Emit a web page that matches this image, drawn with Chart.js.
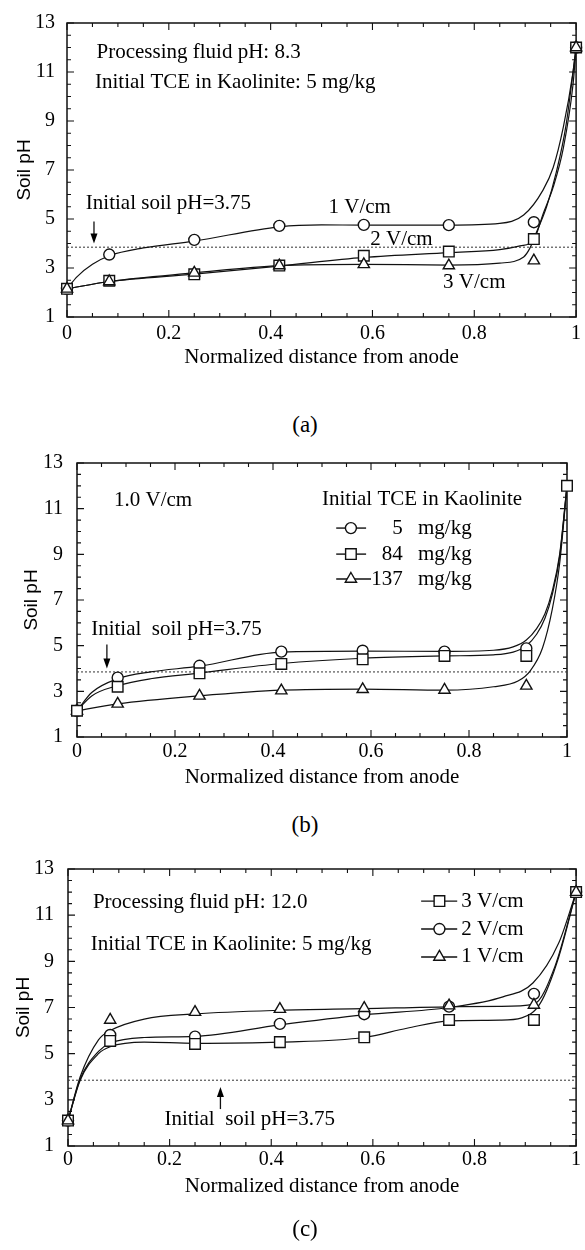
<!DOCTYPE html>
<html>
<head>
<meta charset="utf-8">
<script src="https://cdn.jsdelivr.net/npm/chart.js@4.4.1/dist/chart.umd.min.js"></script>
<style>
  body { margin: 0; background: #fff; width: 585px; height: 1250px; position: relative; overflow: hidden; }
  canvas { position: absolute; left: 0; }
  .tag { position: absolute; width: 80px; margin-left: -40px; text-align: center;
         font: 23px "Liberation Serif", serif; color: #000; line-height: 26px; }
</style>
</head>
<body>
<canvas id="pa" width="585" height="380" style="top:0px"></canvas>
<div class="tag" style="left:305px; top:412px">(a)</div>
<canvas id="pb" width="585" height="400" style="top:400px"></canvas>
<div class="tag" style="left:305px; top:812px">(b)</div>
<canvas id="pc" width="585" height="420" style="top:800px"></canvas>
<div class="tag" style="left:305px; top:1216px">(c)</div>

<script>
// sampling positions (normalized distance from anode)
const X_PTS = [0, 0.083, 0.25, 0.417, 0.583, 0.75, 0.917, 1]
const X_TICKS = [0, 0.2, 0.4, 0.6, 0.8, 1]
const Y_TICKS = [1, 3, 5, 7, 9, 11, 13]
const INIT_X = [0, 1]
const INIT_PH = [3.85, 3.85]

// (a) processing fluid pH 8.3, 5 mg/kg
const A_1V = [2.15, 3.55, 4.15, 4.72, 4.76, 4.75, 4.87, 12]
const A_2V = [2.15, 2.48, 2.74, 3.1, 3.5, 3.67, 4.18, 12]
const A_3V = [2.15, 2.45, 2.8, 3.1, 3.15, 3.1, 3.3, 12]
const A_1V_FIT_X = [0, 0.02, 0.05, 0.083, 0.15, 0.25, 0.417, 0.5, 0.583, 0.75, 0.85, 0.897, 0.935, 0.955, 0.975, 0.994, 1]
const A_1V_FIT = [2.15, 2.65, 3.15, 3.5, 3.82, 4.1, 4.68, 4.76, 4.75, 4.75, 4.82, 5.16, 6.18, 7.1, 8.76, 11.0, 12]
const A_2V_FIT_X = [0, 0.083, 0.25, 0.417, 0.583, 0.75, 0.85, 0.89, 0.917, 0.935, 0.955, 0.975, 0.994, 1]
const A_2V_FIT = [2.15, 2.45, 2.75, 3.08, 3.43, 3.63, 3.75, 3.9, 4.15, 5.2, 6.3, 7.9, 10.5, 12]
const A_3V_FIT_X = [0, 0.083, 0.25, 0.417, 0.583, 0.75, 0.85, 0.897, 0.909, 0.921, 0.942, 0.961, 0.98, 1]
const A_3V_FIT = [2.15, 2.45, 2.8, 3.1, 3.15, 3.12, 3.2, 3.45, 3.8, 4.4, 5.5, 6.9, 8.8, 12]

// (b) 1.0 V/cm, three initial TCE levels (only the square shows at x = 1)
const B_5 = [2.15, 3.6, 4.12, 4.74, 4.78, 4.74, 4.88, null]
const B_84 = [2.15, 3.2, 3.79, 4.2, 4.4, 4.55, 4.55, 12]
const B_137 = [2.15, 2.45, 2.8, 3.03, 3.09, 3.06, 3.24, null]
const B_5_FIT_X = [0, 0.03, 0.083, 0.15, 0.25, 0.417, 0.583, 0.75, 0.85, 0.89, 0.917, 0.938, 0.955, 0.97, 0.985, 1]
const B_5_FIT = [2.15, 2.95, 3.55, 3.85, 4.1, 4.72, 4.76, 4.75, 4.8, 4.95, 5.25, 5.75, 6.4, 7.4, 9.0, 12]
const B_84_FIT_X = [0, 0.03, 0.083, 0.15, 0.25, 0.417, 0.583, 0.75, 0.85, 0.89, 0.917, 0.938, 0.955, 0.97, 0.985, 1]
const B_84_FIT = [2.15, 2.8, 3.25, 3.55, 3.8, 4.22, 4.45, 4.55, 4.6, 4.72, 5.0, 5.5, 6.2, 7.25, 8.9, 12]
const B_137_FIT_X = [0, 0.083, 0.25, 0.417, 0.583, 0.75, 0.85, 0.9, 0.925, 0.95, 0.97, 0.985, 1]
const B_137_FIT = [2.15, 2.45, 2.8, 3.05, 3.1, 3.05, 3.2, 3.45, 3.9, 4.9, 6.6, 8.6, 12]

// (c) processing fluid pH 12.0, 5 mg/kg
const C_3V = [2.1, 5.55, 5.42, 5.5, 5.71, 6.46, 6.46, 12]
const C_2V = [2.1, 5.81, 5.74, 6.29, 6.71, 7.04, 7.59, 12]
const C_1V = [2.1, 6.46, 6.8, 6.93, 6.97, 7.08, 7.11, 12]
const C_3V_FIT_X = [0, 0.024, 0.06, 0.083, 0.15, 0.25, 0.417, 0.583, 0.667, 0.75, 0.85, 0.893, 0.93, 0.966, 1]
const C_3V_FIT = [2.1, 3.85, 5.0, 5.3, 5.5, 5.45, 5.5, 5.7, 6.1, 6.42, 6.45, 6.55, 7.2, 9.2, 12]
const C_2V_FIT_X = [0, 0.024, 0.06, 0.083, 0.15, 0.25, 0.417, 0.583, 0.75, 0.856, 0.915, 0.966, 1]
const C_2V_FIT = [2.1, 3.9, 5.1, 5.45, 5.7, 5.75, 6.25, 6.68, 7.0, 7.46, 8.06, 9.8, 12]
const C_1V_FIT_X = [0, 0.024, 0.06, 0.083, 0.15, 0.25, 0.417, 0.583, 0.75, 0.85, 0.917, 0.958, 1]
const C_1V_FIT = [2.1, 4.0, 5.6, 6.0, 6.5, 6.72, 6.88, 6.95, 7.03, 7.05, 7.15, 8.76, 12]

const SERIF = '"Liberation Serif", "Times New Roman", serif'
const SANS = '"Liberation Sans", Arial, sans-serif'
const INK = '#111'

// marker look, same numbers Chart.js uses for its point styles
const MARK = {
  circle:   { pointStyle: 'circle',   pointRadius: 5.5 },
  rect:     { pointStyle: 'rect',     pointRadius: 7.5 },
  triangle: { pointStyle: 'triangle', pointRadius: 6.5 },
}

const pts = (xs, ys) => xs.map((x, i) => ({ x, y: ys[i] }))

function drawMark(ctx, style, x, y) {
  const r = MARK[style].pointRadius
  ctx.beginPath()
  if (style === 'circle') {
    ctx.arc(x, y, r, 0, Math.PI * 2)
  } else if (style === 'rect') {
    const s = r * Math.SQRT1_2
    ctx.rect(x - s, y - s, 2 * s, 2 * s)
  } else {
    for (let k = 0; k < 3; k++) {
      const a = k * 2 * Math.PI / 3
      const px = x + Math.sin(a) * r, py = y - Math.cos(a) * r
      k ? ctx.lineTo(px, py) : ctx.moveTo(px, py)
    }
    ctx.closePath()
  }
  ctx.fillStyle = '#fff'
  ctx.fill()
  ctx.stroke()
}

// box + inward ticks on all four sides
const frameTicks = {
  id: 'frameTicks',
  beforeDatasetsDraw(chart) {
    const { ctx, chartArea: a, scales: { x, y } } = chart
    ctx.save()
    ctx.strokeStyle = INK
    ctx.lineWidth = 1.5
    ctx.strokeRect(a.left, a.top, a.right - a.left, a.bottom - a.top)
    ctx.lineWidth = 1.1
    ctx.beginPath()
    for (let i = 0; i <= 20; i++) {
      const px = x.getPixelForValue(i / 20)
      const len = i % 4 === 0 ? 7 : 4
      ctx.moveTo(px, a.bottom); ctx.lineTo(px, a.bottom - len)
      ctx.moveTo(px, a.top);    ctx.lineTo(px, a.top + len)
    }
    for (let i = 0; i <= 24; i++) {
      const py = y.getPixelForValue(1 + i / 2)
      const len = i % 4 === 0 ? 7 : 4
      ctx.moveTo(a.left, py);  ctx.lineTo(a.left + len, py)
      ctx.moveTo(a.right, py); ctx.lineTo(a.right - len, py)
    }
    ctx.stroke()
    ctx.restore()
  },
}

// in-plot labels, arrows and the hand-drawn style legend
const notes = {
  id: 'notes',
  afterDatasetsDraw(chart, args, o) {
    const { ctx, scales: { x, y } } = chart
    ctx.save()
    ctx.fillStyle = '#000'
    ctx.strokeStyle = INK
    ctx.textBaseline = 'middle'
    ctx.font = '21px ' + SERIF
    for (const t of o.texts || []) {
      ctx.textAlign = t.align || 'left'
      ctx.fillText(t.text, x.getPixelForValue(t.x), y.getPixelForValue(t.y))
    }
    ctx.lineWidth = 1.3
    for (const ar of o.arrows || []) {
      const px = x.getPixelForValue(ar.x)
      const p0 = y.getPixelForValue(ar.from), p1 = y.getPixelForValue(ar.to)
      const dir = p1 > p0 ? 1 : -1
      ctx.beginPath(); ctx.moveTo(px, p0); ctx.lineTo(px, p1 - dir * 6); ctx.stroke()
      ctx.beginPath()
      ctx.moveTo(px, p1); ctx.lineTo(px - 3.5, p1 - dir * 10); ctx.lineTo(px + 3.5, p1 - dir * 10)
      ctx.closePath(); ctx.fill()
    }
    ctx.lineWidth = 1.4
    for (const k of o.keys || []) {
      const py = y.getPixelForValue(k.y)
      ctx.beginPath()
      ctx.moveTo(x.getPixelForValue(k.x0), py); ctx.lineTo(x.getPixelForValue(k.x1), py)
      ctx.stroke()
      drawMark(ctx, k.mark, x.getPixelForValue(k.xm), py)
    }
    ctx.restore()
  },
}

function panel(id, lay, series, noteOpts) {
  const datasets = []
  series.forEach(s => {
    datasets.push({
      data: pts(X_PTS, s.values),
      ...MARK[s.mark],
      pointBackgroundColor: '#fff',
      pointBorderColor: INK,
      pointBorderWidth: 1.4,
      showLine: false,
      clip: false,
      order: s.order,   // lower order is painted on top
    })
    datasets.push({
      data: pts(s.fitX, s.fit),
      showLine: true,
      pointRadius: 0,
      borderColor: INK,
      borderWidth: 1.2,
      cubicInterpolationMode: 'monotone',
      order: 10,
    })
  })
  datasets.push({
    data: pts(INIT_X, INIT_PH),
    showLine: true,
    pointRadius: 0,
    borderColor: '#333',
    borderWidth: 1,
    borderDash: [2, 2],
    order: 20,
  })

  new Chart(document.getElementById(id), {
    type: 'scatter',
    data: { datasets },
    plugins: [frameTicks, notes],
    options: {
      responsive: false,
      animation: false,
      events: [],
      layout: { padding: { top: lay.top, right: lay.right, left: 0, bottom: 0 } },
      plugins: { legend: { display: false }, tooltip: { enabled: false }, notes: noteOpts },
      scales: {
        x: {
          type: 'linear', min: 0, max: 1,
          grid: { display: false, drawTicks: false, tickLength: 0 },
          border: { display: false },
          afterBuildTicks: s => { s.ticks = X_TICKS.map(v => ({ value: v })) },
          afterFit: s => { s.height = lay.xH; s.paddingLeft = 0; s.paddingRight = 0 },
          ticks: {
            autoSkip: false, maxRotation: 0, padding: lay.xTickPad, color: '#000',
            font: { family: SERIF, size: 20 },
            callback: v => (v === 0 || v === 1) ? String(v) : v.toFixed(1),
          },
          title: {
            display: true, text: 'Normalized distance from anode', color: '#000',
            font: { family: SERIF, size: 21 }, padding: { top: 0, bottom: lay.xTitlePad },
          },
        },
        y: {
          type: 'linear', min: 1, max: 13,
          grid: { display: false, drawTicks: false, tickLength: 0 },
          border: { display: false },
          afterBuildTicks: s => { s.ticks = Y_TICKS.map(v => ({ value: v })) },
          afterFit: s => { s.width = lay.yW; s.paddingTop = 0; s.paddingBottom = 0 },
          ticks: {
            autoSkip: false, padding: lay.yTickPad, color: '#000',
            font: { family: SERIF, size: 20 },
            callback: v => String(v),
          },
          title: {
            display: true, text: 'Soil pH', color: '#000',
            font: { family: SANS, size: 19 }, padding: { top: lay.yTitlePad, bottom: 0 },
          },
        },
      },
    },
  })
}

panel('pa',
  { top: 23, right: 5, yW: 67, xH: 63, xTickPad: 5, xTitlePad: 10.4, yTickPad: 12, yTitlePad: 13.6 },
  [
    { values: A_1V, mark: 'circle',   order: 2, fitX: A_1V_FIT_X, fit: A_1V_FIT },
    { values: A_2V, mark: 'rect',     order: 1, fitX: A_2V_FIT_X, fit: A_2V_FIT },
    { values: A_3V, mark: 'triangle', order: 0, fitX: A_3V_FIT_X, fit: A_3V_FIT },
  ],
  {
    texts: [
      { text: 'Processing fluid pH: 8.3', x: 0.058, y: 11.78 },
      { text: 'Initial TCE in Kaolinite: 5 mg/kg', x: 0.055, y: 10.59 },
      { text: 'Initial soil pH=3.75', x: 0.037, y: 5.65 },
      { text: '1 V/cm', x: 0.575, y: 5.45, align: 'center' },
      { text: '2 V/cm', x: 0.657, y: 4.18, align: 'center' },
      { text: '3 V/cm', x: 0.8, y: 2.39, align: 'center' },
    ],
    arrows: [{ x: 0.053, from: 4.9, to: 4.0 }],
  })

panel('pb',
  { top: 63, right: 18, yW: 77, xH: 63, xTickPad: 3, xTitlePad: 10.4, yTickPad: 14, yTitlePad: 20.6 },
  [
    { values: B_5,   mark: 'circle',   order: 1, fitX: B_5_FIT_X,   fit: B_5_FIT },
    { values: B_84,  mark: 'rect',     order: 0, fitX: B_84_FIT_X,  fit: B_84_FIT },
    { values: B_137, mark: 'triangle', order: 2, fitX: B_137_FIT_X, fit: B_137_FIT },
  ],
  {
    texts: [
      { text: '1.0 V/cm', x: 0.0755, y: 11.38 },
      { text: 'Initial TCE in Kaolinite', x: 0.5, y: 11.42 },
      { text: '5', x: 0.665, y: 10.15, align: 'right' },
      { text: 'mg/kg', x: 0.696, y: 10.15 },
      { text: '84', x: 0.665, y: 9.01, align: 'right' },
      { text: 'mg/kg', x: 0.696, y: 9.01 },
      { text: '137', x: 0.665, y: 7.92, align: 'right' },
      { text: 'mg/kg', x: 0.696, y: 7.92 },
      { text: 'Initial  soil pH=3.75', x: 0.029, y: 5.69 },
    ],
    keys: [
      { y: 10.15, x0: 0.529, x1: 0.59, xm: 0.559, mark: 'circle' },
      { y: 9.01,  x0: 0.529, x1: 0.59, xm: 0.559, mark: 'rect' },
      { y: 7.92,  x0: 0.529, x1: 0.6,  xm: 0.559, mark: 'triangle' },
    ],
    arrows: [{ x: 0.061, from: 5.05, to: 4.0 }],
  })

panel('pc',
  { top: 69, right: 8, yW: 68, xH: 74, xTickPad: 2, xTitlePad: 21.4, yTickPad: 14, yTitlePad: 12.6 },
  [
    { values: C_3V, mark: 'rect',     order: 1, fitX: C_3V_FIT_X, fit: C_3V_FIT },
    { values: C_2V, mark: 'circle',   order: 2, fitX: C_2V_FIT_X, fit: C_2V_FIT },
    { values: C_1V, mark: 'triangle', order: 0, fitX: C_1V_FIT_X, fit: C_1V_FIT },
  ],
  {
    texts: [
      { text: 'Processing fluid pH: 12.0', x: 0.049, y: 11.57 },
      { text: 'Initial TCE in Kaolinite: 5 mg/kg', x: 0.045, y: 9.71 },
      { text: '3 V/cm', x: 0.774, y: 11.61 },
      { text: '2 V/cm', x: 0.774, y: 10.4 },
      { text: '1 V/cm', x: 0.774, y: 9.19 },
      { text: 'Initial  soil pH=3.75', x: 0.19, y: 2.13 },
    ],
    keys: [
      { y: 11.61, x0: 0.695, x1: 0.766, xm: 0.731, mark: 'rect' },
      { y: 10.4,  x0: 0.695, x1: 0.766, xm: 0.731, mark: 'circle' },
      { y: 9.19,  x0: 0.695, x1: 0.766, xm: 0.731, mark: 'triangle' },
    ],
    arrows: [{ x: 0.30, from: 2.6, to: 3.56 }],
  })
</script>
</body>
</html>
